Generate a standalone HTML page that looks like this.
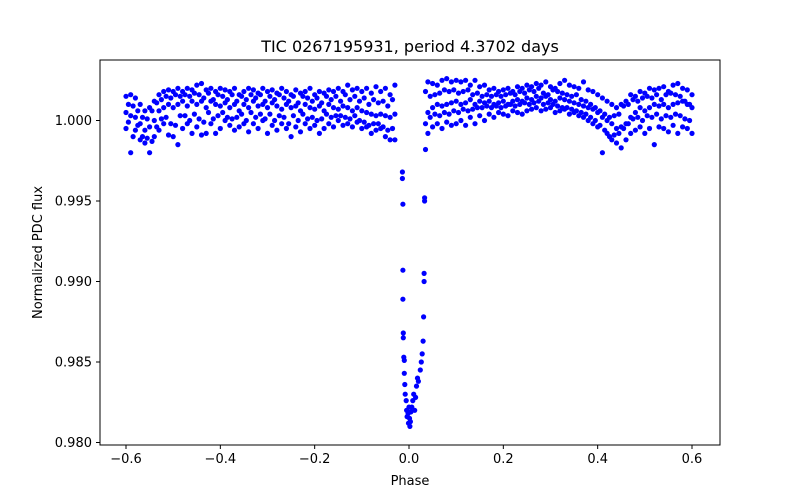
<!DOCTYPE html>
<html><head><meta charset="utf-8"><style>
body{margin:0;background:#fff}
svg{display:block;font-family:"DejaVu Sans","Liberation Sans",sans-serif}
</style></head><body>
<svg id="chart" width="800" height="500" viewBox="0 0 800 500"></svg>
<script>
const phases=[-0.60,-0.59,-0.58,-0.57,-0.56,-0.55,-0.54,-0.53,-0.52,-0.51,-0.50,-0.49,-0.48,-0.47,-0.46,-0.45,-0.44,-0.43,-0.42,-0.41,-0.40,-0.39,-0.38,-0.37,-0.36,-0.35,-0.34,-0.33,-0.32,-0.31,-0.30,-0.29,-0.28,-0.27,-0.26,-0.25,-0.24,-0.23,-0.22,-0.21,-0.20,-0.19,-0.18,-0.17,-0.16,-0.15,-0.14,-0.13,-0.12,-0.11,-0.10,-0.09,-0.08,-0.07,-0.06,-0.05,-0.04,-0.03,
0.04,0.05,0.06,0.07,0.08,0.09,0.10,0.11,0.12,0.13,0.14,0.15,0.16,0.17,0.18,0.19,0.20,0.21,0.22,0.23,0.24,0.25,0.26,0.27,0.28,0.29,0.30,0.31,0.32,0.33,0.34,0.35,0.36,0.37,0.38,0.39,0.40,0.41,0.42,0.43,0.44,0.45,0.46,0.47,0.48,0.49,0.50,0.51,0.52,0.53,0.54,0.55,0.56,0.57,0.58,0.59,0.60];
const fluxHigh=[1.0015,1.0016,1.0014,1.0010,1.0006,1.0008,1.0012,1.0016,1.0018,1.0019,1.0018,1.0020,1.0018,1.0020,1.0019,1.0022,1.0023,1.0019,1.0020,1.0018,1.0020,1.0019,1.0018,1.0020,1.0016,1.0018,1.0020,1.0019,1.0017,1.0020,1.0018,1.0019,1.0017,1.0020,1.0018,1.0016,1.0019,1.0017,1.0018,1.0020,1.0016,1.0018,1.0017,1.0019,1.0018,1.0020,1.0018,1.0022,1.0019,1.0020,1.0018,1.0020,1.0017,1.0021,1.0018,1.0020,1.0016,1.0022,
1.0024,1.0023,1.0022,1.0025,1.0026,1.0024,1.0025,1.0024,1.0025,1.0022,1.0025,1.0021,1.0022,1.0019,1.0020,1.0018,1.0019,1.0020,1.0018,1.0021,1.0020,1.0022,1.0021,1.0023,1.0022,1.0024,1.0021,1.0020,1.0023,1.0025,1.0022,1.0021,1.0020,1.0024,1.0019,1.0018,1.0016,1.0014,1.0012,1.0010,1.0008,1.0010,1.0012,1.0016,1.0015,1.0018,1.0017,1.0020,1.0019,1.0020,1.0021,1.0018,1.0022,1.0023,1.0020,1.0019,1.0016];
const fluxMid=[1.0005,1.0003,1.0002,0.9998,0.9994,0.9996,1.0000,1.0006,1.0008,1.0010,1.0008,1.0010,1.0012,1.0009,1.0012,1.0010,1.0012,1.0008,1.0012,1.0010,1.0009,1.0011,1.0008,1.0010,1.0006,1.0010,1.0008,1.0012,1.0009,1.0010,1.0008,1.0011,1.0009,1.0007,1.0010,1.0008,1.0009,1.0006,1.0010,1.0008,1.0007,1.0009,1.0006,1.0010,1.0008,1.0007,1.0009,1.0008,1.0006,1.0008,1.0006,1.0005,1.0004,1.0003,1.0004,1.0003,1.0002,1.0004,
1.0005,1.0008,1.0010,1.0009,1.0010,1.0011,1.0012,1.0010,1.0011,1.0013,1.0010,1.0012,1.0011,1.0012,1.0010,1.0011,1.0012,1.0010,1.0012,1.0013,1.0012,1.0014,1.0013,1.0015,1.0014,1.0015,1.0013,1.0012,1.0014,1.0013,1.0012,1.0011,1.0010,1.0009,1.0008,1.0007,1.0005,1.0002,1.0000,0.9998,0.9995,0.9996,0.9998,1.0002,1.0005,1.0008,1.0006,1.0008,1.0010,1.0009,1.0010,1.0008,1.0010,1.0011,1.0012,1.0010,1.0008];
const fluxLow=[0.9995,0.9980,0.9994,0.9988,0.9986,0.9980,0.9990,0.9994,0.9998,0.9991,0.9990,0.9985,0.9995,0.9998,0.9992,0.9996,0.9991,0.9992,0.9998,0.9992,0.9995,1.0000,0.9997,0.9994,0.9996,0.9998,0.9993,0.9998,0.9995,1.0000,0.9992,0.9997,0.9994,0.9998,0.9995,0.9990,0.9996,0.9993,0.9998,0.9995,0.9997,0.9992,0.9995,0.9998,0.9996,1.0000,0.9997,0.9998,0.9996,0.9999,0.9995,0.9996,0.9992,0.9994,0.9995,0.9990,0.9988,0.9988,
0.9992,0.9996,0.9998,0.9995,0.9999,0.9997,0.9998,1.0000,0.9997,1.0002,0.9998,1.0003,1.0000,1.0004,1.0002,1.0005,1.0004,1.0003,1.0006,1.0005,1.0004,1.0006,1.0007,1.0008,1.0006,1.0007,1.0008,1.0005,1.0006,1.0007,1.0004,1.0005,1.0003,1.0002,1.0000,0.9998,0.9996,0.9980,0.9992,0.9988,0.9986,0.9983,0.9988,0.9992,0.9994,0.9996,0.9992,0.9995,0.9985,0.9996,0.9995,0.9993,0.9997,0.9992,0.9996,0.9995,0.9992];
const phasesB=[-0.595,-0.585,-0.575,-0.565,-0.555,-0.545,-0.535,-0.525,-0.515,-0.505,-0.495,-0.485,-0.475,-0.465,-0.455,-0.445,-0.435,-0.425,-0.415,-0.405,-0.395,-0.385,-0.375,-0.365,-0.355,-0.345,-0.335,-0.325,-0.315,-0.305,-0.295,-0.285,-0.275,-0.265,-0.255,-0.245,-0.235,-0.225,-0.215,-0.205,-0.195,-0.185,-0.175,-0.165,-0.155,-0.145,-0.135,-0.125,-0.115,-0.105,-0.095,-0.085,-0.075,-0.065,-0.055,-0.045,-0.035,
0.035,0.045,0.055,0.065,0.075,0.085,0.095,0.105,0.115,0.125,0.135,0.145,0.155,0.165,0.175,0.185,0.195,0.205,0.215,0.225,0.235,0.245,0.255,0.265,0.275,0.285,0.295,0.305,0.315,0.325,0.335,0.345,0.355,0.365,0.375,0.385,0.395,0.405,0.415,0.425,0.435,0.445,0.455,0.465,0.475,0.485,0.495,0.505,0.515,0.525,0.535,0.545,0.555,0.565,0.575,0.585,0.595];
const fluxB1=[1.0010,1.0009,1.0006,1.0002,1.0001,1.0006,1.0011,1.0013,1.0015,1.0014,1.0016,1.0015,1.0016,1.0015,1.0017,1.0016,1.0014,1.0017,1.0013,1.0016,1.0015,1.0013,1.0016,1.0012,1.0015,1.0013,1.0016,1.0014,1.0016,1.0012,1.0015,1.0013,1.0016,1.0014,1.0012,1.0015,1.0011,1.0015,1.0014,1.0012,1.0014,1.0011,1.0015,1.0013,1.0015,1.0012,1.0016,1.0013,1.0015,1.0012,1.0014,1.0010,1.0013,1.0011,1.0012,1.0009,1.0013,
1.0018,1.0015,1.0016,1.0017,1.0019,1.0018,1.0019,1.0017,1.0018,1.0019,1.0016,1.0017,1.0015,1.0016,1.0015,1.0016,1.0015,1.0016,1.0017,1.0016,1.0018,1.0017,1.0019,1.0018,1.0020,1.0017,1.0016,1.0019,1.0018,1.0017,1.0016,1.0015,1.0016,1.0013,1.0012,1.0010,1.0008,1.0006,1.0004,1.0002,1.0003,1.0004,1.0009,1.0010,1.0013,1.0012,1.0014,1.0015,1.0014,1.0016,1.0013,1.0016,1.0017,1.0016,1.0015,1.0012,1.0010];
const fluxB2=[0.9999,0.9990,0.9997,0.9990,0.9989,0.9987,0.9996,1.0001,1.0002,0.9998,0.9997,1.0003,1.0003,1.0000,1.0004,1.0001,0.9999,1.0005,1.0001,1.0003,1.0005,1.0002,1.0001,1.0002,1.0004,1.0000,1.0005,1.0002,1.0004,1.0001,1.0004,1.0000,1.0003,1.0002,0.9998,1.0003,1.0000,1.0004,1.0001,1.0002,1.0000,1.0001,1.0004,1.0002,1.0003,1.0003,1.0002,1.0001,1.0003,1.0000,0.9999,0.9997,0.9998,0.9998,0.9996,0.9994,0.9995,
0.9998,1.0002,1.0004,1.0003,1.0005,1.0004,1.0006,1.0005,1.0007,1.0006,1.0007,1.0008,1.0008,1.0009,1.0008,1.0009,1.0008,1.0009,1.0010,1.0009,1.0010,1.0011,1.0010,1.0011,1.0012,1.0010,1.0011,1.0010,1.0009,1.0008,1.0008,1.0007,1.0006,1.0005,1.0004,1.0002,1.0000,0.9997,0.9994,0.9990,0.9991,0.9992,0.9995,0.9998,1.0001,1.0002,1.0000,1.0003,1.0002,1.0004,1.0001,1.0003,1.0002,1.0004,1.0003,1.0001,1.0000];
const transitPhase=[-0.014,-0.014,-0.013,-0.013,-0.013,-0.012,-0.012,-0.011,-0.010,-0.010,-0.009,-0.008,-0.006,-0.005,-0.004,-0.002,-0.001,0.000,0.001,0.002,0.003,0.004,0.006,0.008,0.010,0.012,0.014,0.016,0.018,0.020,0.024,0.026,0.028,0.030,0.031,0.032,0.032,0.033,0.033,0.035];
const transitFlux=[0.9968,0.9964,0.9948,0.9907,0.9889,0.9868,0.9865,0.9853,0.9851,0.9843,0.9836,0.9830,0.9826,0.9820,0.9816,0.9818,0.9812,0.9822,0.9815,0.9810,0.9813,0.9819,0.9822,0.9826,0.9830,0.9820,0.9828,0.9835,0.9840,0.9838,0.9845,0.9850,0.9855,0.9863,0.9878,0.9900,0.9905,0.9950,0.9952,0.9982];
const xTicks=[-0.6,-0.4,-0.2,0.0,0.2,0.4,0.6];
const xTickLabels=["\u22120.6","\u22120.4","\u22120.2","0.0","0.2","0.4","0.6"];
const yTicks=[0.980,0.985,0.990,0.995,1.000];
const yTickLabels=["0.980","0.985","0.990","0.995","1.000"];

const L=100,R=720,T=60,B=445;
const sx=v=>409+(v)*(94.33/0.2);
const sy=v=>120.5+(1.0-v)*(80.5/0.005);
const svg=document.getElementById('chart');
const NS='http://www.w3.org/2000/svg';
function mk(tag,attrs,parent){const e=document.createElementNS(NS,tag);for(const k in attrs)e.setAttribute(k,attrs[k]);(parent||svg).appendChild(e);return e;}

const pts=mk('g',{});


function dot(x,y){const c=mk('circle',{cx:sx(x).toFixed(1),cy:sy(y).toFixed(1),r:2.6,fill:'#0000ff'},pts);

}
[fluxHigh,fluxMid,fluxLow].forEach(arr=>arr.forEach((v,i)=>dot(phases[i],v)));
[fluxB1,fluxB2].forEach(arr=>arr.forEach((v,i)=>dot(phasesB[i],v)));
transitFlux.forEach((v,i)=>dot(transitPhase[i],v));

const frame=mk('rect',{x:L,y:T,width:R-L,height:B-T,fill:'none',stroke:'#000','stroke-width':1});



xTicks.forEach((v,i)=>{const x=sx(v);
const t=mk('line',{x1:x,y1:B,x2:x,y2:B+4,stroke:'#000'});


const l=mk('text',{x:x,y:B+18,'text-anchor':'middle','font-size':'13'});l.textContent=xTickLabels[i];

});
yTicks.forEach((v,i)=>{const y=sy(v);
const t=mk('line',{x1:L-4,y1:y,x2:L,y2:y,stroke:'#000'});


const l=mk('text',{x:L-8,y:y+4.5,'text-anchor':'end','font-size':'13'});l.textContent=yTickLabels[i];

});

const title=mk('text',{x:(L+R)/2,y:52,'text-anchor':'middle','font-size':'16'});title.textContent='TIC 0267195931, period 4.3702 days';


const xt=mk('text',{x:(L+R)/2,y:485,'text-anchor':'middle','font-size':'13'});xt.textContent='Phase';


const yt=mk('text',{x:0,y:0,'text-anchor':'middle','font-size':'13',transform:'translate(42,'+((T+B)/2)+') rotate(-90)'});yt.textContent='Normalized PDC flux';


</script>
</body></html>
